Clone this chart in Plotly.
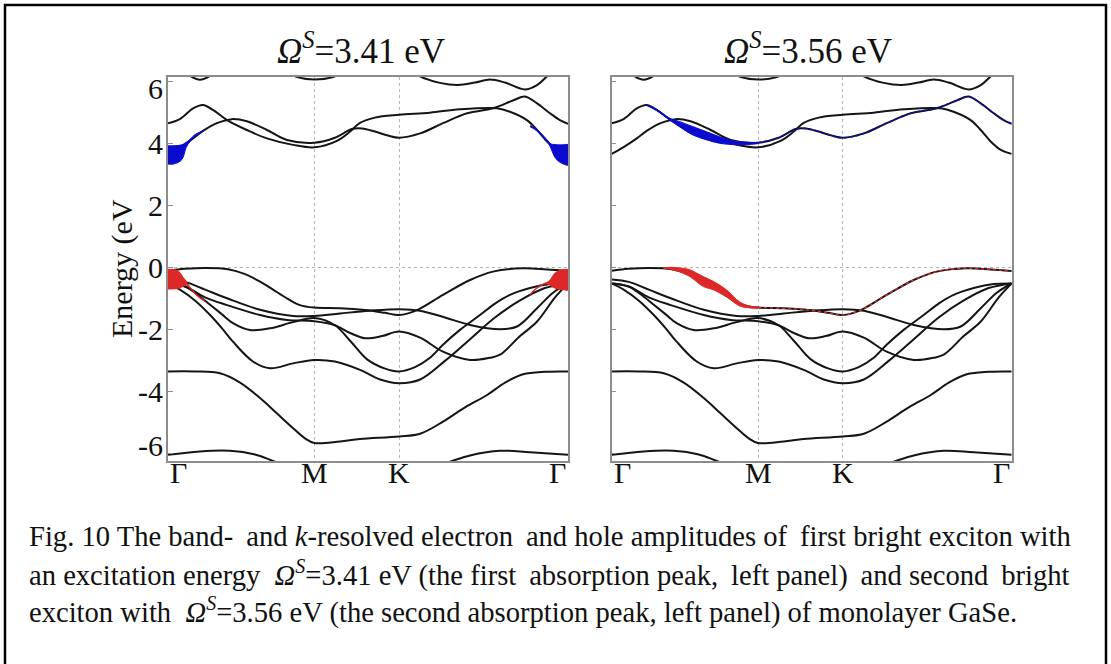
import plotly.graph_objects as go

# high-symmetry points along the path (path length units)
K_GAMMA, K_M, K_K, K_GAMMA2 = 0.0, 0.577, 0.911, 1.577
path_k = [K_GAMMA, K_M, K_K, K_GAMMA2]
path_labels = ["Γ", "M", "K", "Γ"]
y_ticks = [6, 4, 2, 0, -2, -4, -6]

# conduction bands
cb_p_k = [0, 0.047, 0.099, 0.138, 0.177, 0.233, 0.311, 0.390, 0.493, 0.577, 0.666, 0.718, 0.757, 0.816, 0.911, 1.033, 1.151, 1.297, 1.348, 1.415, 1.455, 1.494, 1.534, 1.577]
cb_p_e = [4.67, 4.80, 5.15, 5.26, 5.10, 4.77, 4.45, 4.18, 3.97, 3.89, 4.10, 4.40, 4.68, 4.85, 4.94, 5.01, 5.12, 5.15, 5.04, 4.77, 4.45, 4.08, 3.81, 3.68]
cb_q_k = [0, 0.047, 0.099, 0.138, 0.193, 0.252, 0.311, 0.390, 0.469, 0.577, 0.658, 0.725, 0.765, 0.816, 0.867, 0.911, 0.994, 1.084, 1.179, 1.281, 1.360, 1.407, 1.455, 1.506, 1.545, 1.577]
cb_q_e = [3.68, 3.90, 4.18, 4.42, 4.67, 4.80, 4.73, 4.45, 4.13, 4.04, 4.20, 4.48, 4.50, 4.40, 4.27, 4.20, 4.34, 4.67, 4.99, 5.15, 5.40, 5.53, 5.31, 4.99, 4.77, 4.65]
cb_t1_k = [0.047, 0.087, 0.126, 0.166, 0.205]
cb_t1_e = [6.50, 6.20, 6.07, 6.20, 6.50]
cb_t2_k = [0.461, 0.513, 0.577, 0.647, 0.698]
cb_t2_e = [6.35, 6.15, 6.08, 6.15, 6.35]
cb_t3_k = [0.954, 0.994, 1.072, 1.143, 1.210, 1.269, 1.329, 1.407, 1.455, 1.494, 1.526]
cb_t3_e = [6.40, 6.18, 5.97, 5.90, 5.98, 6.08, 5.98, 5.76, 5.90, 6.18, 6.40]

# valence bands
vb1_k = [0, 0.067, 0.146, 0.237, 0.304, 0.363, 0.414, 0.469, 0.520, 0.577, 0.678, 0.777, 0.856, 0.911, 0.982, 1.084, 1.191, 1.281, 1.400, 1.494, 1.577]
vb1_e = [-0.09, -0.03, 0.0, -0.04, -0.20, -0.44, -0.70, -0.98, -1.20, -1.28, -1.30, -1.36, -1.45, -1.52, -1.36, -0.87, -0.39, -0.12, -0.01, -0.05, -0.10]
vb2_k = [0, 0.067, 0.146, 0.233, 0.363, 0.493, 0.577, 0.678, 0.796, 0.911, 0.994, 1.092, 1.191, 1.309, 1.376, 1.455, 1.518, 1.577]
vb2_e = [-0.37, -0.45, -0.70, -0.98, -1.35, -1.55, -1.55, -1.47, -1.38, -1.33, -1.38, -1.60, -1.84, -1.98, -1.89, -1.30, -0.80, -0.50]
vb3_k = [0, 0.067, 0.146, 0.233, 0.363, 0.469, 0.577, 0.658, 0.718, 0.777, 0.844, 0.911, 0.994, 1.084, 1.191, 1.269, 1.309, 1.388, 1.455, 1.526, 1.577]
vb3_e = [-0.50, -0.60, -0.95, -1.20, -1.52, -1.68, -1.72, -1.85, -2.10, -2.27, -2.20, -2.05, -2.25, -2.70, -2.97, -2.90, -2.80, -2.20, -1.73, -0.95, -0.50]
vb4_k = [0, 0.067, 0.114, 0.166, 0.213, 0.256, 0.323, 0.402, 0.493, 0.577, 0.658, 0.718, 0.785, 0.856, 0.911, 0.974, 1.033, 1.084, 1.151, 1.230, 1.289, 1.348, 1.427, 1.506, 1.577]
vb4_e = [-0.50, -0.60, -0.85, -1.19, -1.50, -1.78, -2.00, -1.95, -1.75, -1.62, -1.85, -2.35, -2.95, -3.25, -3.34, -3.20, -2.90, -2.48, -2.00, -1.52, -1.15, -0.87, -0.65, -0.52, -0.50]
vb5_k = [0, 0.047, 0.106, 0.166, 0.213, 0.256, 0.335, 0.402, 0.493, 0.577, 0.658, 0.757, 0.836, 0.911, 0.994, 1.092, 1.191, 1.289, 1.388, 1.486, 1.577]
vb5_e = [-0.50, -0.70, -1.05, -1.52, -1.95, -2.38, -3.02, -3.24, -3.08, -2.97, -3.02, -3.29, -3.60, -3.72, -3.60, -3.00, -2.30, -1.60, -1.05, -0.65, -0.50]
vb6_k = [0, 0.106, 0.205, 0.284, 0.363, 0.430, 0.493, 0.540, 0.577, 0.678, 0.757, 0.911, 0.994, 1.084, 1.171, 1.258, 1.329, 1.400, 1.486, 1.577]
vb6_e = [-3.34, -3.34, -3.40, -3.70, -4.20, -4.70, -5.17, -5.50, -5.65, -5.60, -5.52, -5.44, -5.35, -4.96, -4.50, -4.10, -3.70, -3.43, -3.35, -3.34]
vb7_k = [0, 0.126, 0.244, 0.343, 0.422, 0.520, 0.577, 0.911, 1.033, 1.112, 1.191, 1.309, 1.427, 1.577]
vb7_e = [-6.03, -5.92, -5.90, -6.02, -6.25, -6.50, -6.55, -6.50, -6.45, -6.25, -6.05, -5.90, -5.95, -6.03]

bands = [(cb_p_k, cb_p_e), (cb_q_k, cb_q_e), (cb_t1_k, cb_t1_e), (cb_t2_k, cb_t2_e),
         (cb_t3_k, cb_t3_e), (vb1_k, vb1_e), (vb2_k, vb2_e), (vb3_k, vb3_e),
         (vb4_k, vb4_e), (vb5_k, vb5_e), (vb6_k, vb6_e), (vb7_k, vb7_e)]

# exciton amplitudes, left panel (3.41 eV): upper / lower edge of the fat bands
el1a_k = [0, 0.020, 0.039, 0.055, 0.063, 0.071, 0.087, 0.106, 0.126, 0.142]
el1a_top = [3.94, 3.94, 3.95, 3.97, 3.99, 4.03, 4.15, 4.30, 4.38, 4.45]
el1a_bot = [3.35, 3.35, 3.40, 3.50, 3.65, 3.88, 4.08, 4.25, 4.35, 4.43]
el1b_k = [1.427, 1.455, 1.478, 1.498, 1.510, 1.522, 1.538, 1.557, 1.577]
el1b_top = [4.59, 4.46, 4.28, 4.10, 4.00, 3.98, 3.97, 3.97, 3.97]
el1b_bot = [4.56, 4.42, 4.23, 4.04, 3.85, 3.62, 3.45, 3.36, 3.32]
ho1a_k = [0, 0.016, 0.032, 0.047, 0.059, 0.071, 0.087, 0.106, 0.126, 0.146]
ho1a_top = [-0.05, -0.05, -0.07, -0.15, -0.30, -0.42, -0.62, -0.80, -0.95, -1.06]
ho1a_bot = [-0.68, -0.68, -0.67, -0.64, -0.60, -0.55, -0.66, -0.84, -0.98, -1.08]
ho1b_k = [1.427, 1.455, 1.486, 1.498, 1.510, 1.522, 1.538, 1.557, 1.577]
ho1b_top = [-0.85, -0.63, -0.49, -0.45, -0.35, -0.20, -0.10, -0.06, -0.06]
ho1b_bot = [-0.88, -0.66, -0.52, -0.52, -0.58, -0.64, -0.68, -0.70, -0.71]

# exciton amplitudes, right panel (3.56 eV)
el2_k = [0.138, 0.177, 0.229, 0.268, 0.320, 0.375, 0.426, 0.477, 0.532, 0.577]
el2_top = [5.26, 5.12, 4.83, 4.72, 4.56, 4.39, 4.23, 4.10, 4.05, 4.04]
el2_bot = [5.24, 5.08, 4.77, 4.55, 4.29, 4.13, 4.02, 3.98, 3.98, 4.02]
ho2_k = [0.205, 0.229, 0.268, 0.308, 0.361, 0.402, 0.453, 0.505, 0.544, 0.577]
ho2_top = [0.0, 0.02, 0.0, -0.06, -0.28, -0.44, -0.71, -1.10, -1.23, -1.27]
ho2_bot = [-0.02, -0.04, -0.13, -0.28, -0.60, -0.71, -0.94, -1.23, -1.29, -1.30]

BLUE = "#0b0bd0"
RED = "#dd2828"
FONT = "Liberation Serif"

fig = go.Figure()


def add_bands(xa, ya):
    for k, e in bands:
        fig.add_trace(go.Scatter(x=k, y=e, mode="lines", xaxis=xa, yaxis=ya,
                                 line=dict(color="#151515", width=2, shape="spline", smoothing=1.0),
                                 hoverinfo="skip", showlegend=False))


def add_fat(k, top, bot, color, xa, ya):
    fig.add_trace(go.Scatter(x=k + k[::-1], y=top + bot[::-1], mode="lines", fill="toself",
                             fillcolor=color, line=dict(color=color, width=1, shape="spline"),
                             xaxis=xa, yaxis=ya, hoverinfo="skip", showlegend=False))


add_bands("x", "y")
add_bands("x2", "y2")
add_fat(el1a_k, el1a_top, el1a_bot, BLUE, "x", "y")
add_fat(el1b_k, el1b_top, el1b_bot, BLUE, "x", "y")
add_fat(ho1a_k, ho1a_top, ho1a_bot, RED, "x", "y")
add_fat(ho1b_k, ho1b_top, ho1b_bot, RED, "x", "y")
add_fat(el2_k, el2_top, el2_bot, BLUE, "x2", "y2")
add_fat(ho2_k, ho2_top, ho2_bot, RED, "x2", "y2")
# thin amplitude traces continuing along the bands in the right panel
fig.add_trace(go.Scatter(x=vb1_k[9:], y=vb1_e[9:], mode="lines", xaxis="x2", yaxis="y2",
                         line=dict(color=RED, width=1.5, shape="spline", dash="dot"),
                         hoverinfo="skip", showlegend=False))
fig.add_trace(go.Scatter(x=cb_q_k[9:], y=cb_q_e[9:], mode="lines", xaxis="x2", yaxis="y2",
                         line=dict(color=BLUE, width=1.5, shape="spline", dash="dot"),
                         hoverinfo="skip", showlegend=False))

W, H = 1111, 664
y_range = [-6.23, 6.16]
xdom1 = [168 / W, 568 / W]
xdom2 = [611.7 / W, 1011.7 / W]
ydom = [1 - 461 / H, 1 - 77 / H]

xa = dict(range=[K_GAMMA, K_GAMMA2], tickmode="array", tickvals=path_k,
          showticklabels=False, showgrid=True, griddash="dot", gridcolor="#b5b5b5", gridwidth=1,
          showline=True, mirror=True, linecolor="#8c8c8c", linewidth=1.5, ticks="",
          zeroline=False)
ya = dict(range=y_range, tickmode="array", tickvals=y_ticks, showticklabels=False,
          showgrid=False, zeroline=False, showline=True, mirror=True, linecolor="#8c8c8c",
          linewidth=1.5, ticks="inside", ticklen=5, tickcolor="#8c8c8c",
          minor=dict(tickmode="array", tickvals=[0], showgrid=True, griddash="dot",
                     gridcolor="#b5b5b5", gridwidth=1, ticks=""))

fig.update_layout(
    width=W, height=H, margin=dict(l=0, r=0, t=0, b=0, pad=0, autoexpand=False),
    paper_bgcolor="white", plot_bgcolor="white",
    xaxis=dict(xa, domain=xdom1, anchor="y"),
    xaxis2=dict(xa, domain=xdom2, anchor="y2"),
    yaxis=dict(ya, domain=ydom, anchor="x"),
    yaxis2=dict(ya, domain=ydom, anchor="x2"),
    font=dict(family=FONT, color="#111"),
)

# energy labels; the two end labels sit pulled inside the frame as in the original
for v in y_ticks:
    shift = -7 if v == y_ticks[0] else (8 if v == y_ticks[-1] else 0)
    fig.add_annotation(text=str(v), x=165 / W, xref="paper", y=v, yref="y",
                       xanchor="right", yanchor="middle", yshift=shift, showarrow=False,
                       font=dict(family=FONT, size=30, color="#111"))

# k-path labels under each panel, end labels kept inside the frame
anchors = ["left", "center", "center", "right"]
for xref in ["x", "x2"]:
    for kv, lab, anc in zip(path_k, path_labels, anchors):
        fig.add_annotation(text=lab, x=kv, xref=xref, y=1 - 472 / H, yref="paper",
                           xanchor=anc, yanchor="middle", showarrow=False,
                           font=dict(family=FONT, size=30, color="#111"))

ann = [
    dict(text="<i>Ω</i><sup><i>S</i></sup>=3.41 eV", x=361 / W, y=1 - 48 / H, font=dict(size=35)),
    dict(text="<i>Ω</i><sup><i>S</i></sup>=3.56 eV", x=808 / W, y=1 - 48 / H, font=dict(size=35)),
    dict(text="Energy (eV", x=122 / W, y=1 - 269 / H, textangle=-90, font=dict(size=30)),
]
for a in ann:
    fig.add_annotation(xref="paper", yref="paper", showarrow=False, xanchor="center",
                       yanchor="middle", **a)

ts = "\u2009"
caption = [
    "Fig. 10 The band-" + ts + " and <i>k</i>-resolved electron" + ts + " and hole amplitudes of" + ts
    + " first bright exciton with",
    "an excitation energy  <i>Ω</i><sup><i>S</i></sup>=3.41 eV (the first" + ts + " absorption peak," + ts
    + " left panel)" + ts + " and second" + ts + " bright",
    "exciton with  <i>Ω</i><sup><i>S</i></sup>=3.56 eV (the second absorption peak, left panel) of monolayer GaSe.",
]
cap_y = [536, 573, 610]
for t, yy in zip(caption, cap_y):
    fig.add_annotation(text=t, xref="paper", yref="paper", x=27 / W, y=1 - yy / H,
                       xanchor="left", yanchor="middle", showarrow=False,
                       font=dict(family=FONT, size=28.6, color="#111"))

fig.add_shape(type="rect", xref="paper", yref="paper", x0=5 / W, x1=1106 / W,
              y0=-0.05, y1=1 - 5 / H, line=dict(color="black", width=2.5))

fig.write_html("out.html", config={"displayModeBar": False},
               post_script="document.body.style.margin='0';")
